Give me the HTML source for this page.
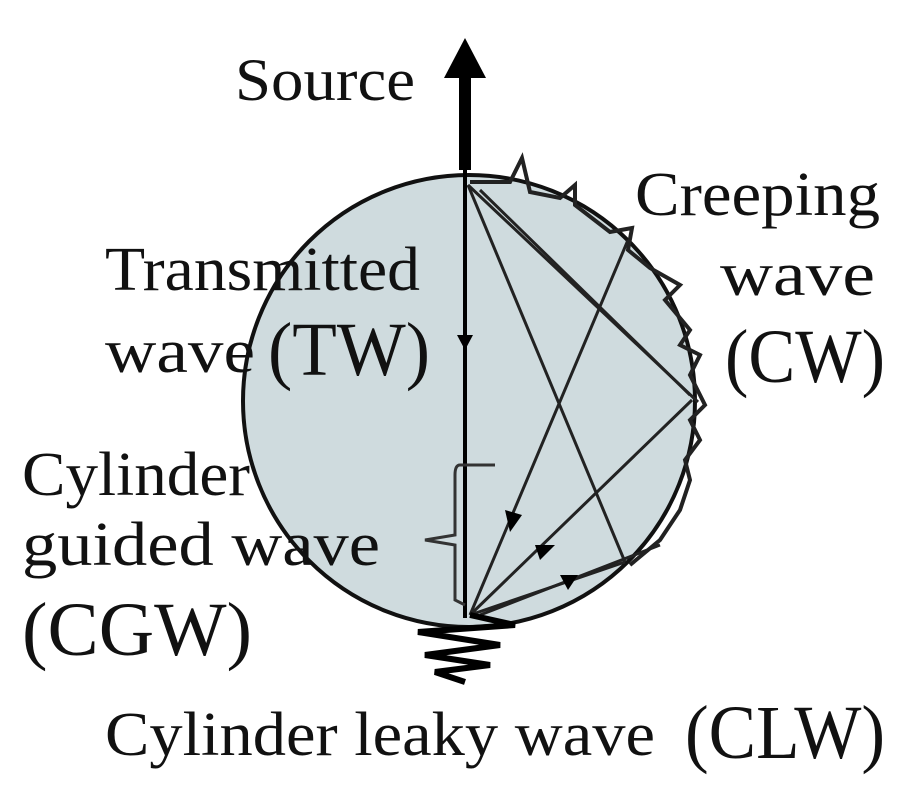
<!DOCTYPE html>
<html><head><style>body{margin:0;background:#fff}svg{display:block}</style></head>
<body>
<svg width="900" height="800" viewBox="0 0 900 800" xmlns="http://www.w3.org/2000/svg" font-family="Liberation Serif, serif" fill="#111">
<circle cx="469" cy="401" r="226" fill="#cfdbde" stroke="#111" stroke-width="4"/>
<!-- creeping wave bumps -->
<polyline points="470,182 510,182 522,158 530,192 560,198 575,185 575,205 610,232 632,228 628,250 650,268 680,285 665,300 690,330 680,345 700,355 690,375 705,405 690,420 700,440 685,460 690,480 680,510 660,540 630,565" fill="none" stroke="#222" stroke-width="4"/>
<!-- vertical line -->
<line x1="465" y1="160" x2="465" y2="618" stroke="#000" stroke-width="4"/>
<polygon points="457,335 473,335 465,350" fill="#000"/>
<!-- source arrow -->
<rect x="459" y="70" width="12" height="100" fill="#000"/>
<polygon points="444,78 486,78 465,38" fill="#000"/>
<!-- chords -->
<g stroke="#222" stroke-width="3" fill="none">
<line x1="468" y1="185" x2="625" y2="562"/>
<line x1="468" y1="185" x2="698" y2="402"/>
<line x1="480" y1="190" x2="690" y2="395"/>
<line x1="628" y1="240" x2="470" y2="615"/>
<line x1="692" y1="400" x2="470" y2="615"/>
<line x1="625" y1="562" x2="470" y2="615"/>
<line x1="660" y1="545" x2="480" y2="615"/>
</g>
<polygon points="505,510 522,515 510,532" fill="#000"/>
<polygon points="535,545 555,545 540,560" fill="#000"/>
<polygon points="560,575 578,575 568,590" fill="#000"/>
<!-- brace -->
<path d="M495,465 L460,465 Q455,465 455,475 L455,535 L425,540 L455,545 L455,600 L465,605" fill="none" stroke="#333" stroke-width="3"/>
<!-- leaky zigzag -->
<polyline points="470,615 515,625 418,632 500,645 425,655 490,665 435,672 465,682" fill="none" stroke="#000" stroke-width="6"/>
<!-- text -->
<text x="235" y="100" font-size="60" textLength="180" lengthAdjust="spacingAndGlyphs">Source</text>
<text x="635" y="215" font-size="62" textLength="245" lengthAdjust="spacingAndGlyphs">Creeping</text>
<text x="720" y="295" font-size="62" textLength="155" lengthAdjust="spacingAndGlyphs">wave</text>
<text x="725" y="382" font-size="76" textLength="160" lengthAdjust="spacingAndGlyphs">(CW)</text>
<text x="105" y="290" font-size="62" textLength="315" lengthAdjust="spacingAndGlyphs">Transmitted</text>
<text x="105" y="372" font-size="62" textLength="150" lengthAdjust="spacingAndGlyphs">wave</text>
<text x="268" y="375" font-size="76" textLength="162" lengthAdjust="spacingAndGlyphs">(TW)</text>
<text x="22" y="495" font-size="62" textLength="228" lengthAdjust="spacingAndGlyphs">Cylinder</text>
<text x="22" y="565" font-size="62" textLength="358" lengthAdjust="spacingAndGlyphs">guided  wave</text>
<text x="22" y="655" font-size="76" textLength="230" lengthAdjust="spacingAndGlyphs">(CGW)</text>
<text x="105" y="755" font-size="62" textLength="550" lengthAdjust="spacingAndGlyphs">Cylinder leaky wave</text>
<text x="685" y="758" font-size="76" textLength="200" lengthAdjust="spacingAndGlyphs">(CLW)</text>
</svg>
</body></html>
